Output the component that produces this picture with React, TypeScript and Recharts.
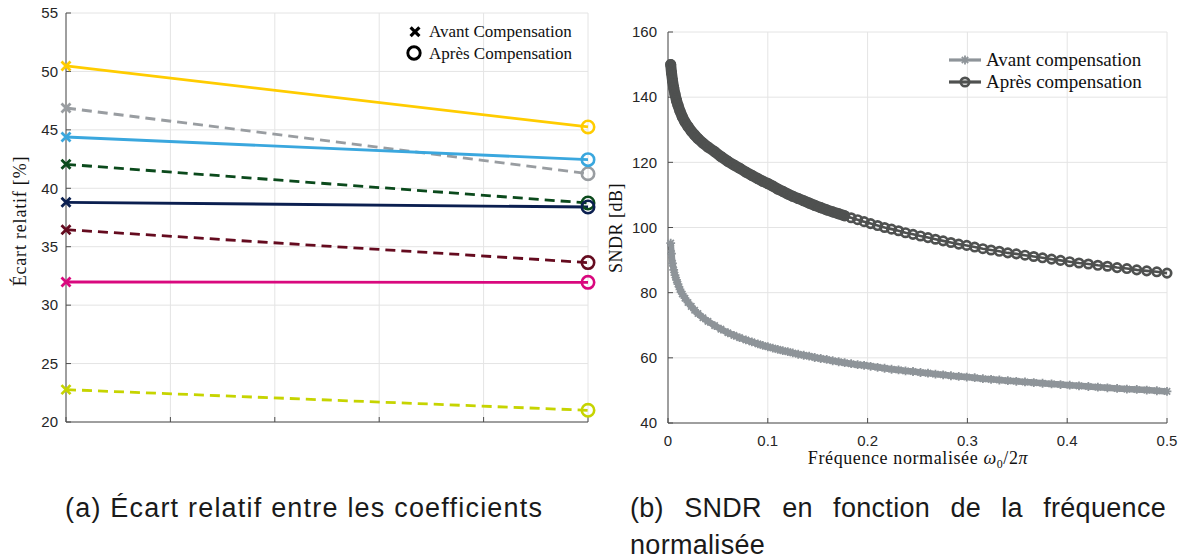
import React from "react";
import { LineChart, Line, XAxis, YAxis, CartesianGrid } from "recharts";

// (a) Écart relatif : un point avant compensation (x = 0), un point après (x = 5)
const ecartX = [0, 5];
const ecartJaune = [50.47, 45.25];
const ecartGris = [46.87, 41.25];
const ecartBleu = [44.39, 42.45];
const ecartVert = [42.05, 38.74];
const ecartMarine = [38.8, 38.4];
const ecartBordeaux = [36.46, 33.64];
const ecartMagenta = [31.98, 31.95];
const ecartAnis = [22.77, 21.0];
const ecartXTicks = [0, 1, 2, 3, 4, 5];
const ecartYTicks = [20, 25, 30, 35, 40, 45, 50, 55];

// (b) SNDR en fonction de la fréquence normalisée
const freq = [
  0.0027, 0.0035, 0.0045, 0.0057, 0.007, 0.0085, 0.01, 0.012, 0.0143, 0.017,
  0.02, 0.0233, 0.0267, 0.03, 0.035, 0.04, 0.0467, 0.053, 0.06, 0.066,
  0.0717, 0.078, 0.084, 0.09, 0.095, 0.1,
  0.105, 0.11, 0.115, 0.12, 0.125, 0.1305, 0.136, 0.1415, 0.147, 0.153,
  0.159, 0.165, 0.171, 0.177, 0.1835, 0.19, 0.1965, 0.203, 0.21, 0.217,
  0.224, 0.231, 0.238, 0.2455, 0.253, 0.2605, 0.268, 0.2757, 0.2835, 0.2913,
  0.2993, 0.3073, 0.3155, 0.3237, 0.332, 0.3405, 0.349, 0.3577, 0.3665, 0.3753,
  0.3843, 0.3933, 0.4025, 0.4118, 0.4212, 0.4307, 0.4403, 0.45, 0.4598, 0.4697,
  0.4797, 0.4898, 0.5,
];
const sndrAvant = [
  95.2, 92.0, 89.0, 87.0, 85.4, 83.9, 82.6, 81.0, 79.6, 78.3,
  77.0, 75.8, 74.6, 73.6, 72.3, 71.2, 69.9, 68.8, 67.7, 66.9,
  66.2, 65.5, 64.9, 64.3, 63.8, 63.4,
  63.0, 62.6, 62.2, 61.9, 61.5, 61.1, 60.8, 60.5, 60.1, 59.8,
  59.5, 59.1, 58.8, 58.5, 58.2, 57.9, 57.7, 57.4, 57.1, 56.8,
  56.5, 56.3, 56.0, 55.8, 55.5, 55.3, 55.0, 54.8, 54.5, 54.3,
  54.1, 53.9, 53.6, 53.4, 53.2, 53.0, 52.8, 52.6, 52.4, 52.2,
  52.0, 51.8, 51.6, 51.4, 51.2, 51.0, 50.8, 50.6, 50.4, 50.3,
  50.1, 49.9, 49.7,
];
const sndrApres = [
  150.0, 147.5, 145.1, 142.9, 140.9, 139.0, 137.5, 135.7, 134.0, 132.4,
  131.0, 129.6, 128.4, 127.3, 125.9, 124.7, 123.3, 121.8, 120.3, 119.2,
  118.2, 117.0, 116.0, 115.0, 114.2, 113.5,
  112.7, 111.8, 111.1, 110.3, 109.6, 108.9, 108.2, 107.5, 106.8, 106.1,
  105.4, 104.8, 104.2, 103.6, 103.0, 102.4, 101.8, 101.2, 100.6, 100.0,
  99.5, 99.0, 98.4, 97.9, 97.4, 96.9, 96.4, 95.9, 95.4, 94.9,
  94.5, 94.0, 93.5, 93.1, 92.7, 92.2, 91.9, 91.5, 91.1, 90.7,
  90.3, 89.9, 89.5, 89.1, 88.8, 88.4, 88.1, 87.7, 87.4, 87.0,
  86.7, 86.4, 86.0,
];
const freqTicks = [0, 0.1, 0.2, 0.3, 0.4, 0.5];
const sndrTicks = [40, 60, 80, 100, 120, 140, 160];

const SERIF = "'Liberation Serif', 'DejaVu Serif', serif";
const SANS = "'Liberation Sans', Arial, sans-serif";
const AXIS = "#4d4d4d";
const GRID = "#e4e4e4";
const GRIS_AVANT = "#8e9499";
const GRIS_APRES = "#4f5150";

const ecartSeries = [
  { key: "gris", values: ecartGris, color: "#999da1", dashed: true },
  { key: "jaune", values: ecartJaune, color: "#ffcc00", dashed: false },
  { key: "bleu", values: ecartBleu, color: "#3aa7de", dashed: false },
  { key: "vert", values: ecartVert, color: "#0b4a1c", dashed: true },
  { key: "marine", values: ecartMarine, color: "#0b1f50", dashed: false },
  { key: "bordeaux", values: ecartBordeaux, color: "#650b1f", dashed: true },
  { key: "magenta", values: ecartMagenta, color: "#d9087e", dashed: false },
  { key: "anis", values: ecartAnis, color: "#c6d400", dashed: true },
];

const ecartRows = ecartX.map((x, i) => {
  const row: any = { x };
  ecartSeries.forEach((s) => (row[s.key] = s.values[i]));
  return row;
});

const sndrRows = freq.map((f, i) => ({
  f,
  avant: sndrAvant[i],
  apres: sndrApres[i],
  bande: f <= 0.18 ? sndrApres[i] : null,
}));

const tickStyle = { fontSize: 15, fill: "#262626", fontFamily: SANS };

// croix au départ, cercle à l'arrivée
const ecartDot = (color: string) => (p: any) => {
  const { cx, cy, index } = p;
  if (index === 0) {
    const r = 4.5;
    return (
      <path
        key={`x-${index}`}
        d={`M${cx - r},${cy - r}L${cx + r},${cy + r}M${cx - r},${cy + r}L${cx + r},${cy - r}`}
        stroke={color}
        strokeWidth={2.8}
        fill="none"
      />
    );
  }
  return <circle key={`o-${index}`} cx={cx} cy={cy} r={6.2} fill="none" stroke={color} strokeWidth={2.6} />;
};

const starDot = (p: any) => {
  const { cx, cy, index } = p;
  const r = 4.4;
  const d = r * 0.72;
  return (
    <path
      key={`s-${index}`}
      d={`M${cx - r},${cy}H${cx + r}M${cx},${cy - r}V${cy + r}M${cx - d},${cy - d}L${cx + d},${cy + d}M${cx - d},${cy + d}L${cx + d},${cy - d}`}
      stroke={GRIS_AVANT}
      strokeWidth={1.8}
      fill="none"
    />
  );
};

const ringDot = (p: any) => (
  <circle key={`c-${p.index}`} cx={p.cx} cy={p.cy} r={4.2} fill="none" stroke={GRIS_APRES} strokeWidth={2.7} />
);

function EcartChart() {
  return (
    <LineChart width={600} height={450} data={ecartRows} margin={{ top: 13, right: 12, bottom: 8, left: 0 }}>
      <CartesianGrid stroke={GRID} />
      <XAxis
        type="number" dataKey="x" domain={[0, 5]} ticks={ecartXTicks} interval={0}
        height={20} tickSize={-5} tickFormatter={() => ""}
        axisLine={{ stroke: AXIS }} tickLine={{ stroke: AXIS }}
      />
      <YAxis
        type="number" domain={[20, 55]} ticks={ecartYTicks} interval={0}
        width={66} tickSize={-5} tickMargin={13} tick={tickStyle}
        axisLine={{ stroke: AXIS }} tickLine={{ stroke: AXIS }}
      />
      {ecartSeries.map((s) => (
        <Line
          key={s.key} dataKey={s.key} type="linear"
          stroke={s.color} strokeWidth={2.8}
          strokeDasharray={s.dashed ? "10 6" : undefined}
          dot={ecartDot(s.color)} activeDot={false}
          isAnimationActive={false}
        />
      ))}
    </LineChart>
  );
}

function SndrChart() {
  return (
    <LineChart width={579} height={480} data={sndrRows} margin={{ top: 32, right: 12, bottom: 27, left: 0 }}>
      <CartesianGrid stroke={GRID} />
      <XAxis
        type="number" dataKey="f" domain={[0, 0.5]} ticks={freqTicks} interval={0}
        height={30} tickSize={-5} tickMargin={17} tick={tickStyle}
        axisLine={{ stroke: AXIS }} tickLine={{ stroke: AXIS }}
      />
      <YAxis
        type="number" domain={[40, 160]} ticks={sndrTicks} interval={0}
        width={68} tickSize={-5} tickMargin={16} tick={tickStyle}
        axisLine={{ stroke: AXIS }} tickLine={{ stroke: AXIS }}
      />
      <Line
        dataKey="avant" type="linear" stroke={GRIS_AVANT} strokeWidth={6.5}
        dot={starDot} activeDot={false} isAnimationActive={false}
      />
      <Line
        dataKey="bande" type="linear" stroke={GRIS_APRES} strokeWidth={11}
        strokeLinecap="round" dot={false} activeDot={false} isAnimationActive={false}
      />
      <Line
        dataKey="apres" type="linear" stroke={GRIS_APRES} strokeWidth={2.6}
        dot={ringDot} activeDot={false} isAnimationActive={false}
      />
    </LineChart>
  );
}

function Overlay() {
  return (
    <svg width={1179} height={480} style={{ position: "absolute", left: 0, top: 0, pointerEvents: "none" }}>
      {/* légende (a) */}
      <path d="M410.6,27.3L419.4,36.1M410.6,36.1L419.4,27.3" stroke="#000" strokeWidth={3.2} />
      <circle cx={414} cy={53} r={6.2} fill="none" stroke="#000" strokeWidth={2.9} />
      <text x={429} y={37.4} fontFamily={SERIF} fontSize={17} fill="#111">Avant Compensation</text>
      <text x={429} y={58.8} fontFamily={SERIF} fontSize={17} fill="#111">Après Compensation</text>
      <text
        transform="translate(26,221) rotate(-90)" textAnchor="middle"
        fontFamily={SERIF} fontSize={18} letterSpacing={0.8} fill="#111"
      >
        Écart relatif [%]
      </text>

      {/* légende (b) */}
      <line x1={949} y1={60} x2={981} y2={60} stroke={GRIS_AVANT} strokeWidth={3.2} />
      {starDot({ cx: 965, cy: 60, index: "leg" })}
      <line x1={949} y1={82} x2={981} y2={82} stroke={GRIS_APRES} strokeWidth={3.2} />
      {ringDot({ cx: 965, cy: 82, index: "leg" })}
      <text x={986} y={66.4} fontFamily={SERIF} fontSize={19} fill="#111">Avant compensation</text>
      <text x={986} y={88.4} fontFamily={SERIF} fontSize={19} fill="#111">Après compensation</text>
      <text
        transform="translate(622,228) rotate(-90)" textAnchor="middle"
        fontFamily={SERIF} fontSize={18} letterSpacing={0.5} fill="#111"
      >
        SNDR [dB]
      </text>
      <text x={918} y={464} textAnchor="middle" fontFamily={SERIF} fontSize={18} letterSpacing={0.6} fill="#111">
        Fréquence normalisée <tspan fontStyle="italic">ω</tspan>
        <tspan fontSize={12} dy={4}>0</tspan>
        <tspan dy={-4}>/2</tspan>
        <tspan fontStyle="italic">π</tspan>
      </text>
    </svg>
  );
}

export default function App() {
  const caption: React.CSSProperties = {
    position: "absolute", top: 490, fontFamily: SANS, fontSize: 27,
    lineHeight: "37px", color: "#1a1a1a",
  };
  return (
    <div style={{ position: "absolute", left: 0, top: 0, width: 1179, height: 560, background: "#fff" }}>
      <div style={{ position: "absolute", left: 0, top: 0 }}>
        <EcartChart />
      </div>
      <div style={{ position: "absolute", left: 600, top: 0 }}>
        <SndrChart />
      </div>
      <Overlay />
      <div style={{ ...caption, left: 65, letterSpacing: 1.2 }}>(a) Écart relatif entre les coefficients</div>
      <div style={{ ...caption, left: 630, width: 536, textAlign: "justify", letterSpacing: 0.3 }}>
        (b) SNDR en fonction de la fréquence normalisée
      </div>
    </div>
  );
}
